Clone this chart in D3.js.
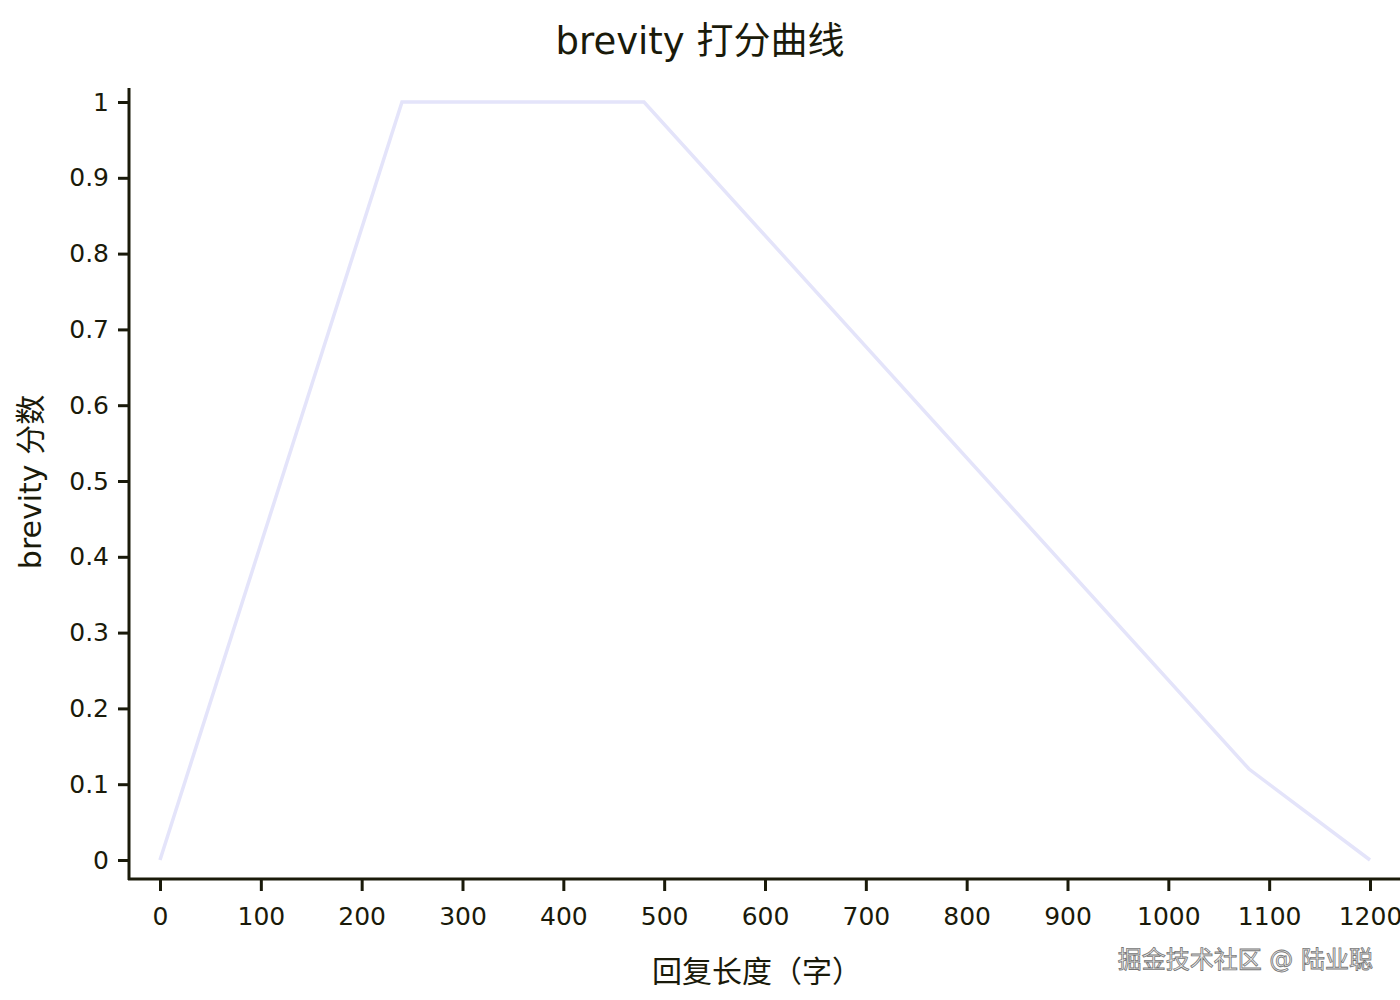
<!DOCTYPE html>
<html>
<head>
<meta charset="utf-8">
<script src="https://cdn.jsdelivr.net/npm/d3@7"></script>
<style>
  body { margin: 0; background: #fff; }
  text { font-family: "DejaVu Sans", "Noto Sans CJK SC", sans-serif; fill: #1a1a0a; }
</style>
</head>
<body>
<div id="chart"></div>
<script>
// data
var lengths = [0, 240, 480, 1080, 1200];
var scores = [0, 1, 1, 0.12, 0];
var xTicks = [0, 100, 200, 300, 400, 500, 600, 700, 800, 900, 1000, 1100, 1200];
var yTicks = [0, 0.1, 0.2, 0.3, 0.4, 0.5, 0.6, 0.7, 0.8, 0.9, 1];

var width = 1400, height = 1000;
var ink = "#1a1a0a";

var svg = d3.select("#chart").append("svg")
    .attr("width", width)
    .attr("height", height);

var x = d3.scaleLinear().domain([0, 1200]).range([160, 1370]);
var y = d3.scaleLinear().domain([0, 1]).range([860, 102]);

// title
svg.append("text")
    .attr("x", 700).attr("y", 54)
    .attr("text-anchor", "middle")
    .style("font-size", "37px")
    .text("brevity 打分曲线");

// y axis
var yAxis = svg.append("g")
    .attr("transform", "translate(129,0)")
    .call(d3.axisLeft(y).tickValues(yTicks).tickSize(11).tickPadding(9)
        .tickFormat(function (d) { return d3.format("~g")(d); }));
yAxis.select(".domain").remove();
yAxis.selectAll(".tick line").attr("stroke", ink).attr("stroke-width", 3);
yAxis.selectAll(".tick text").style("font-size", "25px").style("font-family", "DejaVu Sans").attr("fill", ink);

// x axis
var xAxis = svg.append("g")
    .attr("transform", "translate(0,879)")
    .call(d3.axisBottom(x).tickValues(xTicks).tickSize(12).tickPadding(16)
        .tickFormat(d3.format("d")));
xAxis.select(".domain").remove();
xAxis.selectAll(".tick line").attr("stroke", ink).attr("stroke-width", 3);
xAxis.selectAll(".tick text").style("font-size", "25px").style("font-family", "DejaVu Sans").attr("fill", ink);

// axis spines
svg.append("line")
    .attr("x1", 129).attr("x2", 129).attr("y1", 88).attr("y2", 880)
    .attr("stroke", ink).attr("stroke-width", 3);
svg.append("line")
    .attr("x1", 128).attr("x2", 1400).attr("y1", 879).attr("y2", 879)
    .attr("stroke", ink).attr("stroke-width", 3);

// the curve
var line = d3.line()
    .x(function (d, i) { return x(lengths[i]); })
    .y(function (d) { return y(d); });

svg.append("path")
    .datum(scores)
    .attr("d", line)
    .attr("fill", "none")
    .attr("stroke", "#e4e4fa")
    .attr("stroke-width", 3.5);

// axis labels
svg.append("text")
    .attr("x", 757).attr("y", 982)
    .attr("text-anchor", "middle")
    .style("font-size", "30px")
    .text("回复长度（字）");

svg.append("text")
    .attr("transform", "translate(41,482) rotate(-90)")
    .attr("text-anchor", "middle")
    .style("font-size", "30px")
    .text("brevity 分数");

// watermark
svg.append("text")
    .attr("x", 1373).attr("y", 968)
    .attr("text-anchor", "end")
    .style("font-size", "24px")
    .style("fill", "#eeeeee")
    .style("stroke", "#777")
    .style("stroke-width", "0.8px")
    .text("掘金技术社区 @ 陆业聪");
</script>
</body>
</html>
